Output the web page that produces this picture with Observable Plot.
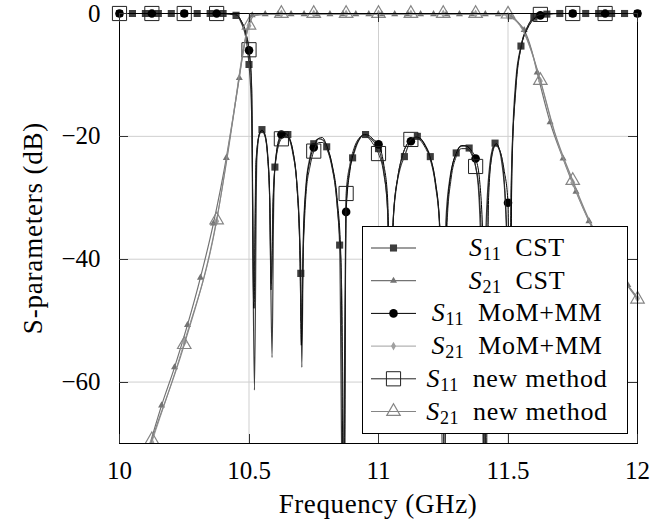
<!DOCTYPE html>
<html><head><meta charset="utf-8">
<script src="https://cdn.jsdelivr.net/npm/d3@7"></script>
<script src="https://cdn.jsdelivr.net/npm/@observablehq/plot@0.6"></script>
<style>body{margin:0;background:#fff}</style>
</head><body><div id="chart"></div>
<script>
const xTicks = [10, 10.5, 11, 11.5, 12];
const yTicks = [0, -20, -40, -60];

// S11 CST
const s11CstLine = [[10,0],[10.40,0],[10.45,-0.3],[10.47,-1.5],[10.49,-4.5],[10.50,-8.3],[10.51,-16],[10.521,-61.3],[10.53,-24],[10.54,-19.6],[10.55,-18.9],[10.56,-19.5],[10.57,-22],[10.58,-30],[10.589,-56],[10.595,-32],[10.60,-25.0],[10.615,-21],[10.63,-19.7],[10.645,-19.5],[10.65,-19.7],[10.665,-21.5],[10.68,-25.5],[10.695,-35],[10.70,-42.3],[10.704,-57.6],[10.71,-36],[10.72,-28],[10.735,-23.5],[10.75,-21.2],[10.77,-20.4],[10.785,-20.6],[10.80,-21.7],[10.82,-24.5],[10.84,-31],[10.85,-37.7],[10.862,-85],[10.875,-31],[10.89,-25],[10.90,-23.5],[10.92,-21],[10.94,-19.8],[10.95,-19.7],[10.965,-20.2],[10.985,-21],[11.00,-22.0],[11.02,-25.5],[11.035,-32],[11.046,-55],[11.055,-35],[11.07,-28],[11.085,-25],[11.10,-23.3],[11.12,-21],[11.14,-20.1],[11.15,-20.0],[11.165,-20.5],[11.185,-21.8],[11.20,-23.3],[11.22,-27.5],[11.235,-34],[11.25,-80],[11.26,-34],[11.275,-27],[11.29,-24],[11.30,-22.7],[11.32,-21.6],[11.34,-21.5],[11.35,-21.9],[11.37,-24],[11.385,-28],[11.40,-48],[11.405,-75],[11.415,-35],[11.43,-24.5],[11.44,-22],[11.45,-21.1],[11.46,-21.5],[11.475,-24],[11.49,-31],[11.50,-45],[11.504,-60],[11.515,-24],[11.53,-11],[11.55,-5.3],[11.575,-2.2],[11.60,-0.6],[11.65,-0.1],[11.70,0],[12.00,0]];
const s11CstMarkF = [10.00,10.05,10.10,10.15,10.20,10.25,10.30,10.35,10.40,10.45,10.50,10.55,10.60,10.65,10.70,10.75,10.80,10.85,10.90,10.95,11.00,11.05,11.10,11.15,11.20,11.25,11.30,11.35,11.40,11.45,11.50,11.55,11.60,11.65,11.70,11.75,11.80,11.85,11.90,11.95,12.00];
const s11CstMarkV = [0,0,0,0,0,0,0,0,0,-0.3,-8.3,-18.9,-25.0,-19.7,-42.3,-21.2,-21.7,-37.7,-23.5,-19.7,-22.0,-45,-23.3,-20.0,-23.3,-80,-22.7,-21.9,-48,-21.1,-45,-5.3,-0.6,-0.1,0,0,0,0,0,0,0];

// S21 CST
const s21CstLine = [[10.0125,-85],[10.0625,-78],[10.1125,-70.8],[10.1625,-63.8],[10.2125,-57.6],[10.2625,-50.7],[10.3125,-43.0],[10.3625,-34.2],[10.4125,-23.5],[10.44,-16.5],[10.4625,-10.5],[10.48,-5.5],[10.495,-2.0],[10.5125,-0.3],[10.5625,-0.1],[11.4625,-0.1],[11.4875,-0.2],[11.5125,-0.6],[11.54,-1.5],[11.5625,-2.7],[11.59,-5.8],[11.6125,-9.6],[11.6625,-17.7],[11.7125,-23.6],[11.7625,-29.0],[11.8125,-33.8],[11.8625,-37.8],[11.9125,-41.3],[11.9625,-44.2],[12.0,-46.3]];
const s21CstMarkF = [10.0125,10.0625,10.1125,10.1625,10.2125,10.2625,10.3125,10.3625,10.4125,10.4625,10.5125,10.5625,10.6125,10.6625,10.7125,10.7625,10.8125,10.8625,10.9125,10.9625,11.0125,11.0625,11.1125,11.1625,11.2125,11.2625,11.3125,11.3625,11.4125,11.4625,11.5125,11.5625,11.6125,11.6625,11.7125,11.7625,11.8125,11.8625,11.9125,11.9625];
const s21CstMarkV = [-85,-78,-70.8,-63.8,-57.6,-50.7,-43.0,-34.2,-23.5,-10.5,-0.3,-0.1,-0.1,-0.1,-0.1,-0.1,-0.1,-0.1,-0.1,-0.1,-0.1,-0.1,-0.1,-0.1,-0.1,-0.1,-0.1,-0.1,-0.1,-0.1,-0.6,-2.7,-9.6,-17.7,-23.6,-29.0,-33.8,-37.8,-41.3,-44.2];

// S11 MoM+MM
const s11MomLine = [[10,0],[10.40,0],[10.45,-0.2],[10.47,-1.2],[10.49,-3.6],[10.50,-6.0],[10.51,-12],[10.519,-48],[10.528,-24],[10.54,-19.6],[10.55,-19.0],[10.56,-19.6],[10.572,-23],[10.58,-30],[10.586,-44],[10.594,-30],[10.605,-23],[10.615,-20.5],[10.625,-19.7],[10.64,-19.5],[10.655,-20.3],[10.67,-22.5],[10.685,-28],[10.697,-40],[10.702,-54],[10.71,-37],[10.72,-28.5],[10.735,-24],[10.75,-21.8],[10.77,-20.3],[10.783,-20.2],[10.80,-21.5],[10.82,-24.5],[10.84,-30],[10.855,-40],[10.866,-85],[10.875,-32.3],[10.89,-25.5],[10.905,-22.5],[10.925,-20.5],[10.945,-19.7],[10.96,-19.8],[10.98,-20.5],[11.00,-21.3],[11.02,-24.5],[11.035,-30],[11.048,-50],[11.058,-33],[11.075,-26.5],[11.09,-23.5],[11.11,-21.3],[11.125,-20.8],[11.145,-20.1],[11.16,-20.3],[11.18,-21.5],[11.20,-23.5],[11.22,-27.5],[11.237,-35],[11.25,-60],[11.262,-35],[11.28,-26],[11.30,-22.8],[11.32,-21.5],[11.34,-21.6],[11.36,-22.4],[11.375,-23.6],[11.39,-27],[11.405,-40],[11.415,-80],[11.425,-30],[11.44,-22.5],[11.455,-21.2],[11.47,-22.5],[11.485,-25.5],[11.50,-30.8],[11.507,-60],[11.515,-26],[11.53,-12],[11.55,-5.6],[11.575,-2.5],[11.60,-0.9],[11.625,-0.3],[11.65,-0.1],[11.70,0],[12.00,0]];
const s11MomMarkF = [10.000,10.125,10.250,10.375,10.500,10.625,10.750,10.875,11.000,11.125,11.250,11.375,11.500,11.625,11.750,11.875,12.000];
const s11MomMarkV = [0,0,0,0,-6.0,-19.7,-21.8,-32.3,-21.3,-20.8,-60,-23.6,-30.8,-0.3,0,0,0];

// S21 MoM+MM
const s21MomLine = [[10.0,-86],[10.125,-69.8],[10.25,-53.5],[10.375,-33.8],[10.42,-22],[10.45,-13.5],[10.475,-6.5],[10.5,-2.0],[10.52,-0.3],[10.625,-0.05],[11.375,-0.05],[11.48,-0.2],[11.5,-0.4],[11.53,-1.2],[11.56,-3.0],[11.59,-6.2],[11.625,-11.0],[11.68,-19.5],[11.75,-27.5],[11.81,-33.5],[11.875,-38.6],[11.94,-43],[12.0,-46.4]];
const s21MomMarkF = [10.000,10.125,10.250,10.375,10.500,10.625,10.750,10.875,11.000,11.125,11.250,11.375,11.500,11.625,11.750,11.875,12.000];
const s21MomMarkV = [-86,-69.8,-53.5,-33.8,-2.0,-0.05,-0.05,-0.05,-0.05,-0.05,-0.05,-0.05,-0.4,-11.0,-27.5,-38.6,-46.4];

// S11 new method
const s11NewLine = [[10,0],[10.40,0],[10.45,-0.2],[10.47,-1.2],[10.49,-3.5],[10.50,-5.9],[10.51,-11.5],[10.518,-47],[10.527,-24],[10.54,-19.8],[10.55,-19.2],[10.56,-19.8],[10.572,-23.5],[10.58,-31],[10.585,-45],[10.593,-30],[10.605,-23.5],[10.625,-20.4],[10.64,-20.0],[10.655,-20.5],[10.67,-23],[10.685,-28],[10.697,-40],[10.701,-50],[10.71,-38],[10.72,-29.5],[10.735,-25],[10.75,-22.4],[10.77,-21],[10.785,-21],[10.80,-22],[10.82,-25],[10.84,-31],[10.858,-45],[10.868,-85],[10.875,-29.3],[10.89,-24.5],[10.905,-22],[10.925,-20.3],[10.945,-19.8],[10.96,-20.2],[10.98,-21.3],[11.00,-22.8],[11.02,-26],[11.035,-32],[11.046,-52],[11.056,-34],[11.075,-26.5],[11.09,-23.5],[11.11,-21.3],[11.125,-20.5],[11.14,-20.2],[11.16,-20.6],[11.18,-21.8],[11.20,-23.8],[11.22,-28],[11.238,-36],[11.25,-60],[11.255,-80],[11.265,-34],[11.28,-27],[11.30,-23.3],[11.32,-22],[11.34,-22],[11.36,-23],[11.375,-24.9],[11.39,-30],[11.402,-45],[11.41,-80],[11.42,-32],[11.435,-24],[11.452,-21.5],[11.47,-22.5],[11.485,-27],[11.497,-40],[11.50,-50],[11.503,-60],[11.512,-28],[11.53,-12.5],[11.55,-5.5],[11.575,-2.2],[11.60,-0.7],[11.625,-0.15],[11.65,0],[12.00,0]];
const s11NewMarkF = [10.000,10.125,10.250,10.375,10.500,10.625,10.750,10.875,11.000,11.125,11.250,11.375,11.500,11.625,11.750,11.875];
const s11NewMarkV = [0,0,0,0,-5.9,-20.4,-22.4,-29.3,-22.8,-20.5,-60,-24.9,-50,-0.15,0,0];

// S21 new method
const s21NewLine = [[10.0,-86.5],[10.125,-69.4],[10.25,-53.9],[10.375,-33.6],[10.42,-22.3],[10.45,-13.8],[10.475,-6.8],[10.5,-1.9],[10.52,-0.3],[10.625,0],[11.375,0],[11.5,-0.1],[11.53,-1.0],[11.56,-2.8],[11.59,-6.0],[11.625,-10.9],[11.68,-19.3],[11.75,-27.2],[11.81,-33.3],[11.875,-38.5],[11.94,-43],[12.0,-46.5]];
const s21NewMarkF = [10.000,10.125,10.250,10.375,10.500,10.625,10.750,10.875,11.000,11.125,11.250,11.375,11.500,11.625,11.750,11.875,12.000];
const s21NewMarkV = [-86.5,-69.4,-53.9,-33.6,-1.9,0,0,0,0,0,0,0,-0.1,-10.9,-27.2,-38.5,-46.5];

const legendSubs = ["11","21","11","21","11","21"];
const legendNames = ["CST","CST","MoM+MM","MoM+MM","new method","new method"];

const pairs = a => a.map(([f, v]) => ({f, v}));
const zipFV = (F, V) => F.map((f, i) => ({f, v: V[i]}));

const series = [
  {line: s11CstLine, marks: zipFV(s11CstMarkF, s11CstMarkV), color: "#3d3d3d", width: 1.2, symbol: "square", d3sym: d3.symbolSquare, r: 4.0, fill: "#3d3d3d", stroke: "none", sw: 0},
  {line: s21CstLine, marks: zipFV(s21CstMarkF, s21CstMarkV), color: "#737373", width: 1.2, symbol: "triangle", d3sym: d3.symbolTriangle, r: 2.6, fill: "#737373", stroke: "none", sw: 0},
  {line: s11MomLine, marks: zipFV(s11MomMarkF, s11MomMarkV), color: "#000000", width: 1.0, symbol: "circle", d3sym: d3.symbolCircle, r: 4.3, fill: "#000000", stroke: "none", sw: 0},
  {line: s21MomLine, marks: zipFV(s21MomMarkF, s21MomMarkV), color: "#a0a0a0", width: 1.0, symbol: "diamond", d3sym: d3.symbolDiamond, r: 2.6, fill: "#a0a0a0", stroke: "none", sw: 0},
  {line: s11NewLine, marks: zipFV(s11NewMarkF, s11NewMarkV), color: "#222222", width: 1.0, symbol: "square", d3sym: d3.symbolSquare, r: 8.0, fill: "none", stroke: "#222222", sw: 1},
  {line: s21NewLine, marks: zipFV(s21NewMarkF, s21NewMarkV), color: "#858585", width: 1.2, symbol: "triangle", d3sym: d3.symbolTriangle, r: 5.0, fill: "none", stroke: "#858585", sw: 1.2}
];

const FONT = "'Liberation Serif', 'DejaVu Serif', serif";
const minus = d => d < 0 ? "\u2212" + Math.abs(d) : String(d);

const plot = Plot.plot({
  width: 651, height: 522,
  marginLeft: 119, marginRight: 14, marginTop: 13, marginBottom: 79,
  style: {fontFamily: FONT, fontSize: "25px", background: "white", color: "black"},
  x: {domain: [10, 12], ticks: xTicks, tickSize: 0, tickPadding: 18, tickFormat: d => String(d), label: null},
  y: {domain: [-70, 0], ticks: yTicks, tickSize: 0, tickPadding: 19, tickFormat: minus, label: null},
  marks: [
    Plot.ruleX(xTicks.slice(1, -1), {stroke: "#cfcfcf", strokeWidth: 1}),
    Plot.ruleY(yTicks.slice(1), {stroke: "#cfcfcf", strokeWidth: 1}),
    ...series.flatMap(s => [
      Plot.line(pairs(s.line), {x: "f", y: "v", stroke: s.color, strokeWidth: s.width, curve: "monotone-x"}),
      Plot.dot(s.marks, {x: "f", y: "v", symbol: s.symbol, r: s.r, fill: s.fill, stroke: s.stroke, strokeWidth: s.sw})
    ]),
    Plot.frame({stroke: "black", strokeWidth: 1})
  ]
});

document.getElementById("chart").appendChild(plot);
const svg = d3.select(plot);
const sx = plot.scale("x"), sy = plot.scale("y");
const fx = sx.apply ? v => sx.apply(v) : d3.scaleLinear(sx.domain, sx.range);
const fy = sy.apply ? v => sy.apply(v) : d3.scaleLinear(sy.domain, sy.range);
const L = fx(10), R = fx(12), T = fy(0), B = fy(-70);

// clip lines and markers to the axis box (markers may overflow the top and sides)
svg.insert("defs", ":first-child").append("clipPath").attr("id", "axclip")
  .append("rect").attr("x", L - 14).attr("y", T - 14).attr("width", R - L + 28).attr("height", B - T + 14);
plot.querySelectorAll('g[aria-label="line"], g[aria-label="dot"]').forEach(g => g.setAttribute("clip-path", "url(#axclip)"));

// inward ticks on all four sides
const tk = svg.append("g").attr("stroke", "#333").attr("stroke-width", 1);
const TL = 9;
xTicks.forEach(v => {
  const x = Math.round(fx(v)) + 0.5;
  tk.append("line").attr("x1", x).attr("x2", x).attr("y1", B).attr("y2", B - TL);
  tk.append("line").attr("x1", x).attr("x2", x).attr("y1", T).attr("y2", T + TL);
});
yTicks.forEach(v => {
  const y = Math.round(fy(v)) + 0.5;
  tk.append("line").attr("y1", y).attr("y2", y).attr("x1", L).attr("x2", L + TL);
  tk.append("line").attr("y1", y).attr("y2", y).attr("x1", R).attr("x2", R - TL);
});

// axis labels
svg.append("text").attr("x", (L + R) / 2).attr("y", 513).attr("text-anchor", "middle")
  .attr("font-family", FONT).attr("font-size", 27).attr("letter-spacing", 0.6).attr("fill", "black").text("Frequency (GHz)");
svg.append("text").attr("transform", `translate(42,${(T + B) / 2}) rotate(-90)`).attr("text-anchor", "middle")
  .attr("font-family", FONT).attr("font-size", 27).attr("letter-spacing", 0.8).attr("fill", "black").text("S-parameters (dB)");

// legend
const lg = svg.append("g");
lg.append("rect").attr("x", 362.5).attr("y", 226.5).attr("width", 265).attr("height", 207)
  .attr("fill", "white").attr("stroke", "black").attr("stroke-width", 1);
series.forEach((s, i) => {
  const y = 248 + i * 32.7;
  lg.append("line").attr("x1", 371).attr("x2", 416).attr("y1", y).attr("y2", y)
    .attr("stroke", s.color).attr("stroke-width", s.width);
  lg.append("path").attr("d", d3.symbol(s.d3sym, Math.PI * s.r * s.r)())
    .attr("transform", `translate(393.5,${y})`)
    .attr("fill", s.fill).attr("stroke", s.stroke).attr("stroke-width", s.sw);
  const t = lg.append("text").attr("x", 517).attr("y", y + 8).attr("text-anchor", "middle")
    .attr("font-family", FONT).attr("font-size", 26).attr("letter-spacing", 0.7).attr("fill", "black");
  t.append("tspan").attr("font-style", "italic").text("S");
  t.append("tspan").attr("font-size", 18).attr("dy", 4).text(legendSubs[i]);
  t.append("tspan").attr("dy", -4).text("\u2002" + legendNames[i]);
});
</script>
</body></html>
